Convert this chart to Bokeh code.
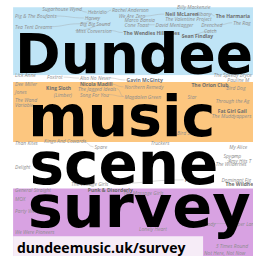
from bokeh.plotting import figure
from bokeh.models import Range1d
from bokeh.embed import file_html
from bokeh.resources import INLINE
from bokeh.core.properties import value

# ---- data (picture coordinates, y grows downward) ----
band_names = ["blue", "gap", "orange", "white", "purple", "urlbox"]
band_top = [7, 77, 84, 146, 194, 243]
band_bottom = [77, 84, 146, 194, 264, 264]
band_left = [13, 13, 13, 13, 13, 13]
band_right = [261, 261, 261, 261, 261, 209]
band_colors = ["#bfe4f6", "#ffffff", "#fcc67f", "#ffffff", "#d8a2e2", "#f6ecf7"]

words = ["Dundee", "music", "scene", "survey"]
word_x = [15, 28.5, 30, 28]
word_mid_y = [55.0, 119.5, 168.5, 212.0]
word_size = ["55px", "57px", "58px", "59px"]

url_text = ["dundeemusic.uk/survey"]
url_x = [17]
url_mid_y = [255.0]

bg_names = ["Sugarhouse Wynd", "Hebridio", "Rachel Anderson", "Billy Mackenzie", "Pig & The Boufants",
            "Harvey", "We Are Zero", "Neil McLaren", "Albany", "The Harmaria", "Big Big Sound",
            "Marco Bansia", "The Valentine Project", "The Rag", "Tea Tent Dreams", "Cone Toast",
            "David Mentagger", "Drenched", "Miss Conversion", "The Wendies Hillbillies", "Catch",
            "Sean Findlay", "Lick Anne", "Foxtrot", "Also No Never", "Gavin McGinty",
            "The Speedy Bryce", "Pauline M", "Dee Miller", "King Sloth", "Nicola Madill",
            "Northern Remedy", "The Orion Club", "Bird Dog", "The Jagged Ideals", "Jones", "(Limber)",
            "Song For You", "Magdalen Green", "Star", "The Wand", "Through the Ag", "Variable",
            "Fat Girl Gail", "The Muddyappers", "Bird Star", "Than Kites", "Kings And Cowards",
            "Spare", "Truckers", "My Alice", "Spyamp", "Amy Hits T", "The Wildernes", "Delight",
            "Dominant Fig", "The Wildhe", "The Vintage Girls", "Pete Smith", "General Straight",
            "Punk & Disorderly", "The Massage Girls", "MOX", "Party Wel", "Lonely Heart",
            "Bee Rhody", "Sopper Lan", "3 Times Round", "Not Here, Not Now", "We Were Pioneers"]
bg_x = [43, 90, 115, 182, 15, 87, 122, 170, 202, 222, 82, 128, 170, 240, 15, 128, 160, 207, 78,
        127, 210, 187, 15, 48, 82, 130, 220, 234, 15, 47, 82, 128, 197, 233, 80, 15, 55, 82, 128,
        193, 15, 222, 15, 224, 218, 182, 15, 45, 97, 155, 236, 230, 235, 222, 15, 228, 232, 73,
        190, 15, 90, 127, 15, 15, 143, 198, 236, 222, 210, 15]
bg_y = [9, 12, 10, 7, 16, 18, 16, 14, 14, 16, 24, 20, 19, 23, 27, 25, 25, 25, 31, 33, 31, 37,
        77, 79, 80, 82, 77, 82, 86, 90, 86, 89, 87, 90, 91, 94, 97, 97, 99, 99, 103, 104, 108,
        114, 119, 137, 147, 145, 151, 147, 151, 160, 165, 169, 172, 185, 189, 189, 185, 195,
        195, 199, 205, 217, 236, 230, 230, 253, 260, 239]
bg_bold = ["The Wendies Hillbillies", "Sean Findlay", "Gavin McGinty", "King Sloth", "Nicola Madill",
           "The Orion Club", "Fat Girl Gail", "Neil McLaren", "The Harmaria", "Pete Smith",
           "Punk & Disorderly", "The Wildhe"]

link_from = ["Sugarhouse Wynd", "Hebridio", "Harvey", "We Are Zero", "Neil McLaren", "Albany",
             "Big Big Sound", "Cone Toast", "Drenched", "Miss Conversion", "Also No Never",
             "Foxtrot", "Nicola Madill", "The Orion Club", "The Jagged Ideals", "Song For You",
             "Punk & Disorderly", "The Vintage Girls", "Kings And Cowards", "Spyamp",
             "Bee Rhody", "Pig & The Boufants", "Tea Tent Dreams", "Catch"]
link_to = ["Hebridio", "Rachel Anderson", "Big Big Sound", "Neil McLaren", "Albany", "The Harmaria",
           "Miss Conversion", "David Mentagger", "The Rag", "The Wendies Hillbillies", "Gavin McGinty",
           "Also No Never", "Northern Remedy", "Bird Dog", "Magdalen Green", "Magdalen Green",
           "The Massage Girls", "Pete Smith", "Spare", "Amy Hits T",
           "Sopper Lan", "Harvey", "Big Big Sound", "Sean Findlay"]

# ---- figure ----
p = figure(width=253, height=256, x_range=Range1d(0, 261), y_range=Range1d(264, 0),
           output_backend="svg", toolbar_location=None, min_border=0, title=None)
p.axis.visible = False
p.grid.visible = False
p.outline_line_color = None
p.background_fill_color = "white"
p.border_fill_color = "white"

p.quad(left=band_left, right=band_right, top=band_top, bottom=band_bottom,
       fill_color=band_colors, line_color=None)

# faint connector curves between background names
idx = {n: i for i, n in enumerate(bg_names)}
x0 = [bg_x[idx[a]] + 2.3 * len(a) + 1 for a in link_from]
y0 = [bg_y[idx[a]] for a in link_from]
x1 = [bg_x[idx[b]] - 1 for b in link_to]
y1 = [bg_y[idx[b]] for b in link_to]
cx = [(a + b) / 2 for a, b in zip(x0, x1)]
p.bezier(x0=x0, y0=y0, x1=x1, y1=y1, cx0=cx, cy0=y0, cx1=cx, cy1=y1,
         line_color="#9a9a9a", line_width=0.5, line_alpha=0.7)

reg_idx = [i for i, n in enumerate(bg_names) if n not in bg_bold]
bold_idx = [i for i, n in enumerate(bg_names) if n in bg_bold]
p.text(x=[bg_x[i] for i in reg_idx], y=[bg_y[i] for i in reg_idx],
       text=[bg_names[i] for i in reg_idx], text_font=value("Open Sans"),
       text_font_style="italic", text_font_size="5px", text_color="#8c8c8c",
       text_baseline="middle", text_align="left", text_line_height=1.0)
p.text(x=[bg_x[i] for i in bold_idx], y=[bg_y[i] for i in bold_idx],
       text=[bg_names[i] for i in bold_idx], text_font=value("Open Sans"),
       text_font_style="bold", text_font_size="5px", text_color="#6e6e6e",
       text_baseline="middle", text_align="left", text_line_height=1.0)

p.text(x=word_x, y=word_mid_y, text=words, text_font=value("DejaVu Sans"),
       text_font_style="bold", text_font_size=word_size, text_color="black",
       text_baseline="middle", text_align="left", text_line_height=1.0)

p.text(x=url_x, y=url_mid_y, text=url_text, text_font=value("Open Sans"),
       text_font_style="bold", text_font_size="14px", text_color="black",
       text_baseline="middle", text_align="left", text_line_height=1.0)

open("out.html", "w").write(file_html(p, INLINE))
